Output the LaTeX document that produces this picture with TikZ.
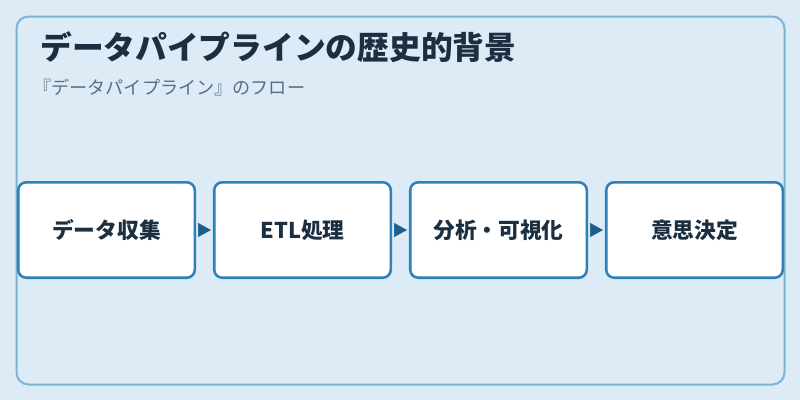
\documentclass[tikz,border=0pt]{standalone}
\usepackage{fontspec}
\setmainfont{Noto Sans CJK JP}
\usetikzlibrary{positioning,arrows.meta}

\definecolor{bgblue}{HTML}{DCEBF6}
\definecolor{panelline}{HTML}{7DB4D6}
\definecolor{boxline}{HTML}{2E80B8}
\definecolor{arrowfill}{HTML}{1F5F8B}
\definecolor{titlecol}{HTML}{1B2F40}
\definecolor{subcol}{HTML}{5C6E7E}

\begin{document}
\begin{tikzpicture}[
                x=0.75pt, y=-0.75pt,
                node distance=14.6pt,
                stage/.style={
                    rectangle,
                    rounded corners=6pt,
                    draw=boxline,
                    fill=white,
                    line width=1.9pt,
                    minimum width=132.4pt,
                    minimum height=71.6pt,
                    inner sep=0pt,
                    outer sep=0pt,
                    text=titlecol,
                    font=\fontsize{16.3}{19}\selectfont\bfseries
                },
                flow/.style={-{Triangle[length=9.75pt,width=10.5pt]},
                    draw=arrowfill, fill=arrowfill, line width=0.5pt,
                    shorten <=2.4pt, shorten >=2.4pt}
            ]
                % 背景
                \fill[bgblue] (0,0) rectangle (800,400);
                \useasboundingbox (0,0) rectangle (800,400);
                \draw[panelline, line width=1.5pt, rounded corners=9pt]
                    (16.5,16.5) rectangle (784.5,384.5);

                % 見出し
                \node[anchor=west, inner sep=0pt, text=titlecol,
                      font=\fontsize{23.8}{28}\selectfont\bfseries] (title) at (40,47)
                      {データパイプラインの歴史的背景};
                \node[anchor=west, inner sep=0pt, text=subcol,
                      font=\fontsize{13.6}{16}\selectfont] (subtitle) at (33,88)
                      {『データパイプライン』のフロー};

                % 段階
                \node[stage] (collect) at (106.5,230) {データ収集};
                \node[stage] (etl) [right=of collect] {ETL処理};
                \node[stage] (analysis) [right=of etl] {分析・可視化};
                \node[stage] (decision) [right=of analysis] {意思決定};

                % 矢印
                \draw[flow] (collect) -- (etl);
                \draw[flow] (etl) -- (analysis);
                \draw[flow] (analysis) -- (decision);
\end{tikzpicture}
\end{document}
